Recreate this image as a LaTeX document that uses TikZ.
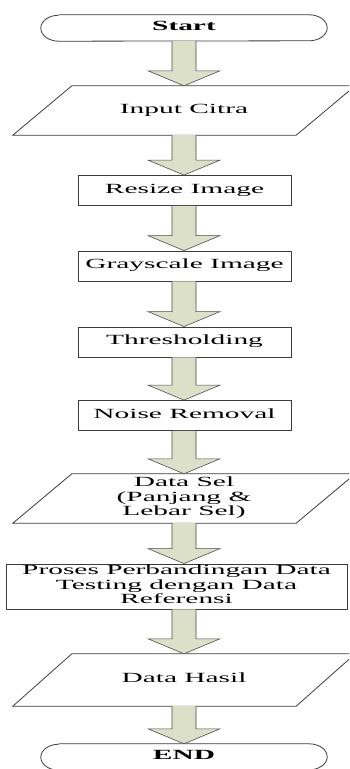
\documentclass[tikz,border=0pt]{standalone}
\usepackage{fontspec}
\setmainfont{Liberation Serif}
\usepackage{graphicx}
\usepackage{tikz}
\usetikzlibrary{calc}
\usepackage{xcolor}
\definecolor{arrowfill}{RGB}{221,224,200}
\definecolor{boxline}{RGB}{60,60,60}

\newcommand{\widetext}[1]{\scalebox{2.1}[1]{\begin{tabular}{@{}c@{}}#1\end{tabular}}}
\newcommand{\flowarrow}[2]{%
\draw[blockarrow] ($(axis |- #1.south)+(-12,0)$) -- ($(axis |- #2.north)+(-12,-15)$) -- ++(-24,0)
  -- (axis |- #2.north) -- ++(36,-15) -- ++(-24,0) -- ($(axis |- #1.south)+(12,0)$);}

\begin{document}
\begin{tikzpicture}[x=1pt,y=-1pt]
\tikzset{every node/.style={font=\fontsize{14}{14.5}\selectfont}}
\tikzstyle{process}=[rectangle,draw=boxline,line width=0.8pt,inner sep=0pt,minimum width=213pt,minimum height=30pt]
\tikzstyle{inout}=[rectangle,inner sep=0pt,minimum width=342pt,minimum height=49pt]
\tikzstyle{terminal}=[rectangle,inner sep=0pt,minimum width=286pt,minimum height=26pt]
\tikzstyle{blockarrow}=[fill=arrowfill,draw=black!70,line width=0.6pt,line join=miter]

\useasboundingbox (0,0) rectangle (349,769);
\clip (0,0) rectangle (349,769);

\coordinate (axis) at (184,0);

\node[terminal] (start) at (184,28) {\widetext{\textbf{Start}}};
\node[inout] (input) at (184,110.5) {\widetext{Input Citra}};
\node[process] (resize) at (184.5,190.5) {\widetext{Resize Image}};
\node[process] (gray) at (184.5,266) {\widetext{Grayscale Image}};
\node[process] (thresh) at (184.5,342) {\widetext{Thresholding}};
\node[process] (noise) at (184.5,415.5) {\widetext{Noise Removal}};
\node[inout] (datasel) at (184,498.5) {\raisebox{-6pt}{\widetext{Data Sel\\(Panjang \&\\Lebar Sel)}}};
\node[process,minimum width=341pt,minimum height=45pt] (proses) at (176.5,586.5)
  {\widetext{Proses Perbandingan Data\\Testing dengan Data\\Referensi}};
\node[inout,minimum height=52pt] (hasil) at (184,680) {\widetext{Data Hasil}};
\node[terminal] (end) at (184,757) {\widetext{\textbf{END}}};

% start / end
\foreach \t in {start,end}
  \draw[boxline,line width=0.8pt] ([xshift=18pt]\t.north west) -- ([xshift=-18pt]\t.north east)
    arc[start angle=90,end angle=-90,x radius=18pt,y radius=13pt]
    -- ([xshift=18pt]\t.south west)
    arc[start angle=270,end angle=90,x radius=18pt,y radius=13pt];

% input / output
\foreach \p in {input,datasel,hasil}
  \draw[boxline,line width=0.8pt] (\p.south west) -- ([xshift=59pt]\p.north west) -- (\p.north east)
    -- ([xshift=-59pt]\p.south east) -- cycle;

\foreach \a/\b in {start/input,input/resize,resize/gray,gray/thresh,thresh/noise,
  noise/datasel,datasel/proses,proses/hasil,hasil/end}
  {\flowarrow{\a}{\b}}

\end{tikzpicture}
\end{document}
